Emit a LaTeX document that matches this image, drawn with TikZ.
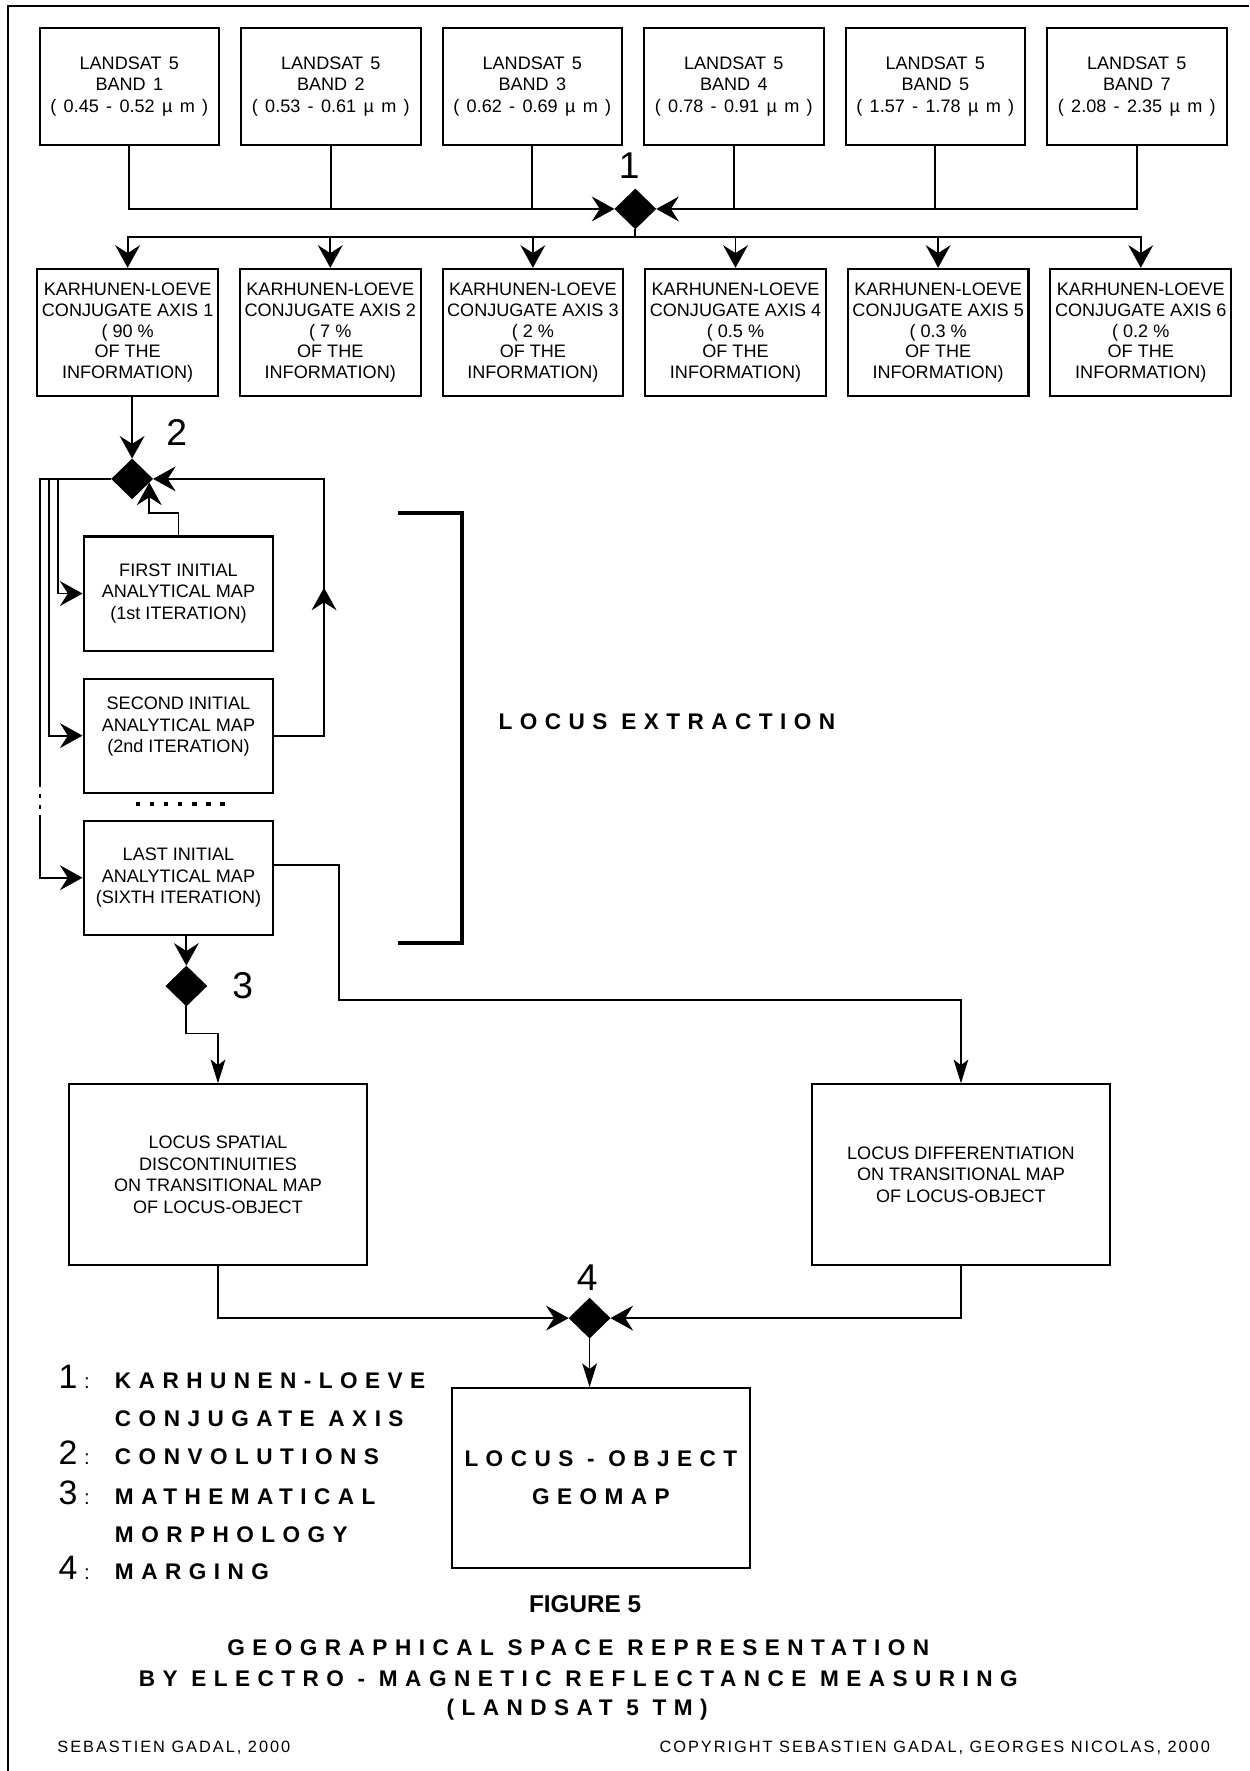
\documentclass[tikz,border=0pt]{standalone}
\usepackage{fontspec}
\setmainfont{Liberation Sans}
\newfontfamily\widefamily[LetterSpace=33]{Liberation Sans}
\newfontfamily\footfamily[LetterSpace=12]{Liberation Sans}
\usetikzlibrary{positioning,shapes.geometric,arrows.meta,decorations.markings}

\newcommand{\boxtext}{\fontsize{16}{19}\selectfont}
\newcommand{\bandtext}{\fontsize{16}{19}\selectfont\spaceskip=6.5pt plus 1pt\relax}
\newcommand{\kltext}{\fontsize{16}{18.5}\selectfont}
\newcommand{\widebold}{\widefamily\bfseries\fontsize{20}{34}\selectfont}
\newcommand{\stepnum}{\fontsize{33}{33}\selectfont}
\newcommand{\legnum}{\fontsize{30}{30}\selectfont}
\newcommand{\legcolon}{\hspace{6pt}\fontsize{18}{18}\selectfont:}
\newcommand{\credittext}{\footfamily\fontsize{14.5}{16}\selectfont}

\begin{document}
\begin{tikzpicture}[x=1pt, y=-1pt, line width=1.6pt,
    bandbox/.style={draw, line width=1.8pt, minimum width=159pt, minimum height=103pt,
        inner sep=0pt, align=center, font=\bandtext},
    klbox/.style={draw, line width=1.8pt, minimum width=160pt, minimum height=113pt,
        inner sep=0pt, align=center, font=\kltext},
    mapbox/.style={draw, line width=1.8pt, minimum width=168pt, minimum height=101pt,
        inner sep=0pt, align=center, font=\boxtext},
    locusbox/.style={draw, line width=1.8pt, minimum width=264pt, minimum height=160pt,
        inner sep=0pt, align=center, font=\boxtext},
    junction/.style={diamond, fill=black, minimum width=37pt, minimum height=36pt,
        inner sep=0pt, outer sep=0pt},
    stepnumber/.style={inner sep=0pt, anchor=base, font=\stepnum},
    bigarrow/.style={-{Stealth[length=20pt, width=22pt, inset=7pt]}},
    slimarrow/.style={-{Stealth[length=21pt, width=13pt, inset=5pt]}}]

    \useasboundingbox (0,0) rectangle (1106,1568);
    \draw[line width=2pt] (7,1568) -- (7,5) -- (1106,5);

    % bandes Landsat
    \node[bandbox] (band1) at (114.5,76.5) {LANDSAT 5\\BAND 1\\( 0.45 - 0.52 µ m )};
    \node[bandbox] (band2) [right=17.6pt of band1] {LANDSAT 5\\BAND 2\\( 0.53 - 0.61 µ m )};
    \node[bandbox] (band3) [right=17.6pt of band2] {LANDSAT 5\\BAND 3\\( 0.62 - 0.69 µ m )};
    \node[bandbox] (band4) [right=17.6pt of band3] {LANDSAT 5\\BAND 4\\( 0.78 - 0.91 µ m )};
    \node[bandbox] (band5) [right=17.6pt of band4] {LANDSAT 5\\BAND 5\\( 1.57 - 1.78 µ m )};
    \node[bandbox] (band6) [right=17.6pt of band5] {LANDSAT 5\\BAND 7\\( 2.08 - 2.35 µ m )};

    % axes de Karhunen-Loeve
    \node[klbox] (kl1) at (113,294.5) {KARHUNEN-LOEVE\\CONJUGATE AXIS 1\\( 90 \%\\OF THE\\INFORMATION)};
    \node[klbox] (kl2) [right=17.6pt of kl1] {KARHUNEN-LOEVE\\CONJUGATE AXIS 2\\( 7 \%\\OF THE\\INFORMATION)};
    \node[klbox] (kl3) [right=17.6pt of kl2] {KARHUNEN-LOEVE\\CONJUGATE AXIS 3\\( 2 \%\\OF THE\\INFORMATION)};
    \node[klbox] (kl4) [right=17.6pt of kl3] {KARHUNEN-LOEVE\\CONJUGATE AXIS 4\\( 0.5 \%\\OF THE\\INFORMATION)};
    \node[klbox] (kl5) [right=17.6pt of kl4] {KARHUNEN-LOEVE\\CONJUGATE AXIS 5\\( 0.3 \%\\OF THE\\INFORMATION)};
    \node[klbox] (kl6) [right=17.6pt of kl5] {KARHUNEN-LOEVE\\CONJUGATE AXIS 6\\( 0.2 \%\\OF THE\\INFORMATION)};

    % cartes analytiques
    \node[mapbox] (first) at (158,525.5) {FIRST INITIAL\\ANALYTICAL MAP\\(1st ITERATION)};
    \node[mapbox] (second) [below=23pt of first] {SECOND INITIAL\\ANALYTICAL MAP\\(2nd ITERATION)\\ \mbox{}};
    \node[mapbox] (last) [below=23pt of second] {LAST INITIAL\\ANALYTICAL MAP\\(SIXTH ITERATION)};

    \node[locusbox] (spatial) at (193,1040) {LOCUS SPATIAL\\DISCONTINUITIES\\ON TRANSITIONAL MAP\\OF LOCUS-OBJECT};
    \node[locusbox] (diff) [right=392pt of spatial] {LOCUS DIFFERENTIATION\\ON TRANSITIONAL MAP\\OF LOCUS-OBJECT};
    \node[locusbox, minimum height=159pt, font=\widebold] (object) at (532,1308.5) {LOCUS - OBJECT\\GEOMAP};

    % operateurs
    \node[junction] (d1) at (562.5,185) {};
    \node[junction] (d2) at (117,424) {};
    \node[junction] (d3) at (165,873) {};
    \node[junction] (d4) at (522,1167) {};
    \node[stepnumber] (n1) at (557,158) {1};
    \node[stepnumber] (n2) at (156.5,394) {2};
    \node[stepnumber] (n3) at (215,884) {3};
    \node[stepnumber] (n4) at (520,1143) {4};

    % etape 1
    \draw[bigarrow] (band1.south) |- (d1.west);
    \draw (band2.south) -- (band2.south |- d1.west);
    \draw (band3.south) -- (band3.south |- d1.west);
    \draw (band4.south) -- (band4.south |- d1.east);
    \draw (band5.south) -- (band5.south |- d1.east);
    \draw[bigarrow] (band6.south) |- (d1.east);
    \draw (d1.south) -- ++(0,7) coordinate (split);
    \draw[bigarrow] (split) -| (kl1.north);
    \draw[bigarrow] (split) -| (kl2.north);
    \draw[bigarrow] (split) -| (kl3.north);
    \draw[bigarrow] (split) -| (kl4.north);
    \draw[bigarrow] (split) -| (kl5.north);
    \draw[bigarrow] (split) -| (kl6.north);

    % etape 2 : convolutions
    \draw[bigarrow] (kl1.south -| d2.north) -- (d2.north);
    \draw[bigarrow] (d2.west) -| ([xshift=-22pt]first.west) -- (first.west);
    \draw[bigarrow] (d2.west) -| ([xshift=-30pt]second.west) -- (second.west);
    \draw[bigarrow, dash pattern=on 336pt off 6pt on 4pt off 6pt on 4pt off 5pt on 400pt]
        (d2.west) -| ([xshift=-38pt]last.west) -- (last.west);
    \draw[bigarrow] (first.north) -- ++(0,-20) -| (d2.-12);
    \draw[bigarrow, decoration={markings,
        mark=at position 175pt with {\arrow{Stealth[length=20pt, width=22pt, inset=7pt]}}},
        postaction=decorate]
        (second.east) -- ++(44,0) |- (d2.east);
    \draw[line width=4pt, dash pattern=on 4pt off 8.5pt] (120,712) -- (202,712);

    % extraction
    \draw[line width=3.2pt] (352,454) -- (409,454) -- (409,835) -- (352,835);
    \node[font=\widebold] (extraction) at (590.5,639) {LOCUS EXTRACTION};

    % etapes 3 et 4
    \draw[bigarrow] (last.south -| d3.north) -- (d3.north);
    \draw[slimarrow] (d3.south) -- ++(0,24) -| (spatial.north);
    \draw[slimarrow] ([yshift=11pt]last.east) -- ++(57,0) -- ++(0,119) -| (diff.north);
    \draw[bigarrow] (spatial.south) |- (d4.west);
    \draw[bigarrow] (diff.south) |- (d4.east);
    \draw[slimarrow] (d4.south) -- (d4.south |- object.north);

    % legende
    \node[anchor=base west, inner sep=0pt] (leg1) at (51,1229) {\makebox[50pt][l]{\legnum 1\legcolon}\widebold KARHUNEN-LOEVE};
    \node[anchor=base west, inner sep=0pt] (leg1b) at (51,1263) {\makebox[50pt][l]{}\widebold CONJUGATE AXIS};
    \node[anchor=base west, inner sep=0pt] (leg2) at (51,1297) {\makebox[50pt][l]{\legnum 2\legcolon}\widebold CONVOLUTIONS};
    \node[anchor=base west, inner sep=0pt] (leg3) at (51,1332) {\makebox[50pt][l]{\legnum 3\legcolon}\widebold MATHEMATICAL};
    \node[anchor=base west, inner sep=0pt] (leg3b) at (51,1366) {\makebox[50pt][l]{}\widebold MORPHOLOGY};
    \node[anchor=base west, inner sep=0pt] (leg4) at (51,1398) {\makebox[50pt][l]{\legnum 4\legcolon}\widebold MARGING};

    % titre
    \node[anchor=base, inner sep=0pt, font=\bfseries\fontsize{21.5}{22}\selectfont] (fig) at (518,1428) {FIGURE 5};
    \node[anchor=base, inner sep=0pt, font=\widebold] (title1) at (512,1466) {GEOGRAPHICAL SPACE REPRESENTATION};
    \node[anchor=base, inner sep=0pt, font=\widebold] (title2) at (512,1493) {BY ELECTRO - MAGNETIC REFLECTANCE MEASURING};
    \node[anchor=base, inner sep=0pt, font=\widebold] (title3) at (511,1519) {(LANDSAT 5 TM)};
    \node[anchor=base west, inner sep=0pt, font=\credittext] (author) at (50,1552) {SEBASTIEN GADAL, 2000};
    \node[anchor=base east, inner sep=0pt, font=\credittext] (copyright) at (1072,1552) {COPYRIGHT SEBASTIEN GADAL, GEORGES NICOLAS, 2000};

\end{tikzpicture}
\end{document}
